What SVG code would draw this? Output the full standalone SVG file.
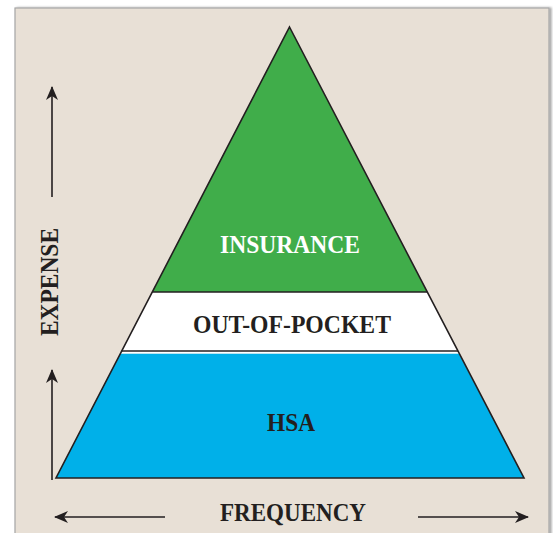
<svg xmlns="http://www.w3.org/2000/svg" width="553" height="533" viewBox="0 0 553 533">
  <defs>
    <style>
      .edge { stroke: #231f20; stroke-width: 1.6; stroke-linejoin: miter; }
      .axis { stroke: #231f20; stroke-width: 1.6; fill: none; }
      .label { font-family: "Liberation Serif", "Times New Roman", serif; font-weight: bold; font-size: 25px; text-anchor: middle; }
      .dark { fill: #231f20; }
      .light { fill: #ffffff; }
    </style>
    <marker id="head" viewBox="0 0 14 12" refX="13" refY="6" markerWidth="14" markerHeight="12" markerUnits="userSpaceOnUse" orient="auto">
      <path d="M0,0 L14,6 L0,12 L4,6 Z" fill="#231f20"/>
    </marker>
    <filter id="shadow" x="-5%" y="-5%" width="110%" height="110%">
      <feDropShadow dx="2" dy="0" stdDeviation="1.2" flood-color="#000" flood-opacity="0.35"/>
    </filter>
  </defs>

  <!-- page -->
  <rect x="0" y="0" width="553" height="533" fill="#ffffff"/>
  <!-- panel -->
  <rect x="15" y="8" width="534" height="540" fill="#e8e0d6" stroke="#a6a6a6" stroke-width="1.2" filter="url(#shadow)"/>

  <!-- pyramid layers -->
  <g id="hsa">
    <polygon points="120.2,353.5 458.8,353.5 524,478 56,478" fill="#00b0e9"/>
    <text class="label dark" x="291" y="431" textLength="48" lengthAdjust="spacingAndGlyphs">HSA</text>
  </g>
  <g id="out-of-pocket">
    <polygon points="152.3,292 427,292 459,353.5 120.2,353.5" fill="#ffffff"/>
    <line class="edge" x1="121.3" y1="351" x2="458" y2="351"/>
    <text class="label dark" x="292" y="332.5" textLength="198" lengthAdjust="spacingAndGlyphs">OUT-OF-POCKET</text>
  </g>
  <g id="insurance">
    <polygon points="289.5,27 427,292 152.3,292" fill="#40ad4a"/>
    <line class="edge" x1="152.3" y1="292" x2="427" y2="292"/>
    <text class="label light" x="290" y="253" textLength="140" lengthAdjust="spacingAndGlyphs">INSURANCE</text>
  </g>
  <!-- pyramid outline -->
  <polygon class="edge" points="289.5,27 524,478 56,478" fill="none"/>

  <!-- axes -->
  <g id="connectors">
    <line class="axis" x1="52" y1="197" x2="52" y2="87" marker-end="url(#head)"/>
    <line class="axis" x1="52" y1="480" x2="52" y2="370" marker-end="url(#head)"/>
    <line class="axis" x1="165" y1="517" x2="55" y2="517" marker-end="url(#head)"/>
    <line class="axis" x1="418" y1="517" x2="528" y2="517" marker-end="url(#head)"/>
  </g>
  <g id="expense">
    <text class="label dark" x="0" y="0" transform="translate(58,282) rotate(-90)" textLength="108" lengthAdjust="spacingAndGlyphs">EXPENSE</text>
  </g>
  <g id="frequency">
    <text class="label dark" x="293" y="521" textLength="146" lengthAdjust="spacingAndGlyphs">FREQUENCY</text>
  </g>
</svg>
